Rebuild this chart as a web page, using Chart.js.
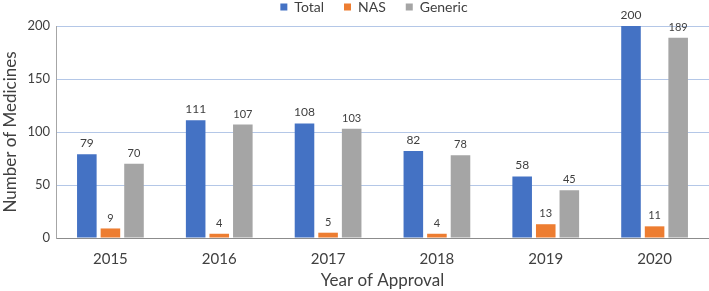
<!DOCTYPE html>
<html><head><meta charset="utf-8">
<script src="https://cdn.jsdelivr.net/npm/chart.js@4"></script>
<style>html,body{margin:0;padding:0;background:#fff}#wrap{width:709px;height:291px}</style>
</head><body><div id="wrap"><canvas id="c" width="709" height="291"></canvas></div>
<script>
const years = ['2015','2016','2017','2018','2019','2020'];
const totalValues = [79,111,108,82,58,200];
const nasValues = [9,4,5,4,13,11];
const genericValues = [70,107,103,78,45,189];
const seriesNames = ['Total','NAS','Generic'];
const yMin = 0, yMax = 200, yStep = 50;

const FONT = 'Lato, "Open Sans", sans-serif';
const TXT = '#404040';

const valueLabels = {
  id: 'valueLabels',
  afterDatasetsDraw(chart) {
    const ctx = chart.ctx;
    chart.data.datasets.forEach((ds, i) => {
      const meta = chart.getDatasetMeta(i);
      meta.data.forEach((bar, j) => {
        ctx.save();
        ctx.font = (i === 0 ? '12px ' : '11px ') + FONT;
        ctx.fillStyle = TXT;
        ctx.textAlign = 'center';
        ctx.textBaseline = 'bottom';
        ctx.fillText(String(ds.data[j]), bar.x, bar.y - 5);
        ctx.restore();
      });
    });
  }
};

const legendFix = {
  id: 'legendFix',
  beforeInit(chart) {
    const lg = chart.legend;
    if (lg) {
      const orig = lg.fit;
      lg.fit = function () { orig.call(this); this.height = 26; };
    }
  },
  afterLayout(chart) {
    const lg = chart.legend;
    if (!lg) return;
    const target = 374;
    const cur = (lg.left + lg.right) / 2;
    const shift = target - cur;
    lg.left += shift; lg.right += shift;
    lg.top = 7 - 20 - 7;
  }
};

new Chart(document.getElementById('c'), {
  type: 'bar',
  data: {
    labels: years,
    datasets: [
      { label: seriesNames[0], data: totalValues, backgroundColor: '#4472C4' },
      { label: seriesNames[1], data: nasValues, backgroundColor: '#ED7D31' },
      { label: seriesNames[2], data: genericValues, backgroundColor: '#A5A5A5' }
    ]
  },
  options: {
    responsive: false,
    animation: false,
    devicePixelRatio: 1,
    layout: { padding: { left: 0, right: 0, top: 0, bottom: 0 } },
    datasets: { bar: { categoryPercentage: 0.65, barPercentage: 0.83 } },
    plugins: {
      legend: {
        position: 'top',
        labels: { boxWidth: 7, boxHeight: 7, padding: 20, color: TXT, font: { family: FONT, size: 14 } }
      },
      tooltip: { enabled: false }
    },
    scales: {
      x: {
        grid: { display: false },
        border: { display: true, color: '#8C8C8C', width: 1 },
        ticks: { color: TXT, font: { family: FONT, size: 15 }, padding: 4 },
        title: { display: true, text: 'Year of Approval', color: TXT, font: { family: FONT, size: 17 }, padding: { top: 2, bottom: 0 } },
        afterFit(s) { s.height = 53; }
      },
      y: {
        min: yMin, max: yMax,
        ticks: { stepSize: yStep, color: TXT, font: { family: FONT, size: 13 }, padding: 6 },
        grid: { color: '#B4C7E7', drawTicks: false },
        border: { display: true, color: '#A6A6A6', width: 1 },
        title: { display: true, text: 'Number of Medicines', color: TXT, font: { family: FONT, size: 17 }, padding: { top: 0, bottom: 4 } },
        afterFit(s) { s.width = 56; }
      }
    }
  },
  plugins: [valueLabels, legendFix]
});
</script>
</body></html>
